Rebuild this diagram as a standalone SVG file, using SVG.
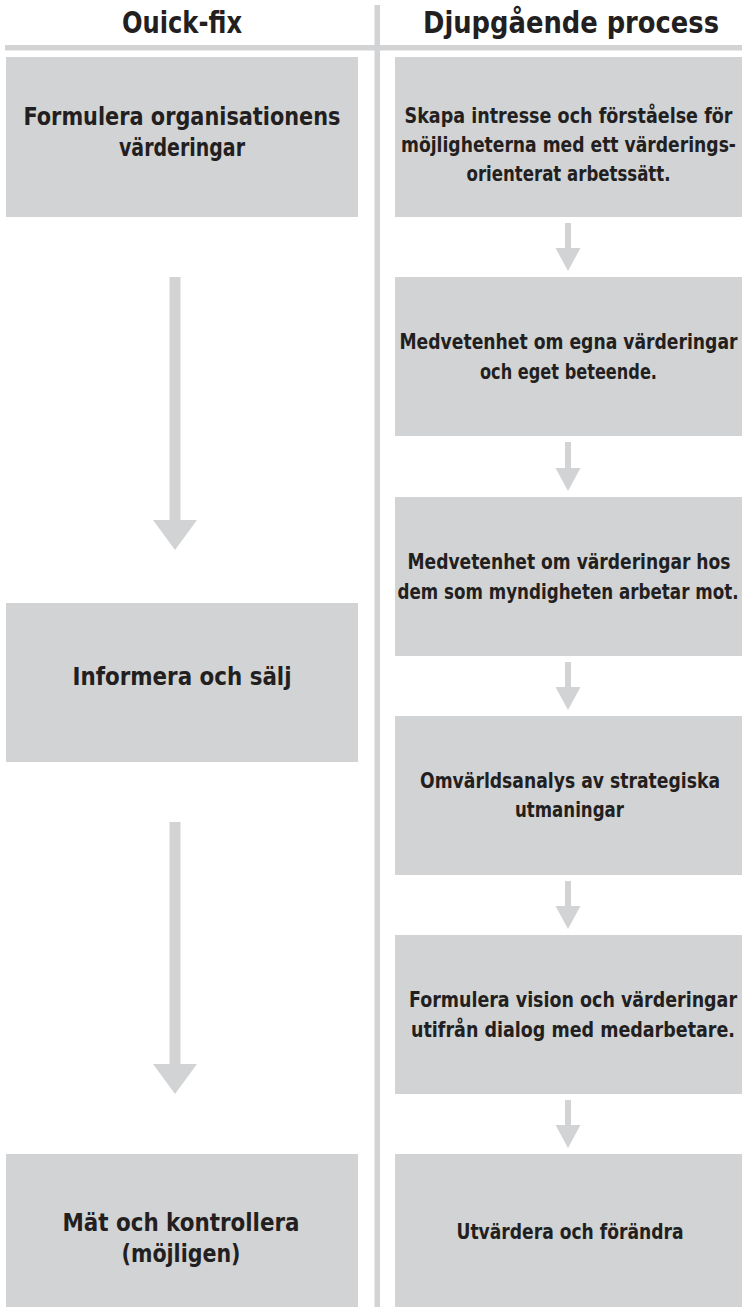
<svg xmlns="http://www.w3.org/2000/svg" width="742" height="1307" viewBox="0 0 742 1307">
<style>
.box{fill:#d1d3d4}
.rule{fill:#d1d3d4}
.arr{fill:#d1d3d4}
text{font-family:"Liberation Sans Narrow","Arial Narrow","DejaVu Sans Condensed","Liberation Sans",sans-serif;fill:#231f20;text-anchor:middle;font-weight:bold}
.h{font-size:31px}
.l{font-size:25px}
.r{font-size:22px}
</style>
<rect width="742" height="1307" fill="#ffffff"/>
<g id="frame">
<rect class="rule" x="374.5" y="5" width="5.5" height="1302"/>
<rect class="rule" x="5" y="45" width="737" height="5.5"/>
</g>
<g id="headers">
<text class="h" x="182" y="33" textLength="120" lengthAdjust="spacingAndGlyphs">Ouick-fix</text>
<text class="h" x="571" y="33" textLength="296" lengthAdjust="spacingAndGlyphs">Djupgående process</text>
</g>
<g id="connectors">
<polygon class="arr" points="169.5,277 180.5,277 180.5,520 197,520 175,550 153,520 169.5,520"/>
<polygon class="arr" points="169.5,822 180.5,822 180.5,1064 197,1064 175,1094 153,1064 169.5,1064"/>
<polygon class="arr" points="565,223 571,223 571,248 580.5,248 568,271 555.5,248 565,248"/>
<polygon class="arr" points="565,442 571,442 571,468 580.5,468 568,491 555.5,468 565,468"/>
<polygon class="arr" points="565,662 571,662 571,687 580.5,687 568,710 555.5,687 565,687"/>
<polygon class="arr" points="565,881 571,881 571,906 580.5,906 568,929 555.5,906 565,906"/>
<polygon class="arr" points="565,1100 571,1100 571,1125 580.5,1125 568,1148 555.5,1125 565,1125"/>
</g>
<g id="q1">
<rect class="box" x="6" y="57" width="352" height="160"/>
<text class="l" x="182" y="125" textLength="317" lengthAdjust="spacingAndGlyphs">Formulera organisationens</text>
<text class="l" x="182" y="156" textLength="126" lengthAdjust="spacingAndGlyphs">värderingar</text>
</g>
<g id="q2">
<rect class="box" x="6" y="603" width="352" height="159"/>
<text class="l" x="182" y="685" textLength="219" lengthAdjust="spacingAndGlyphs">Informera och sälj</text>
</g>
<g id="q3">
<rect class="box" x="6" y="1154" width="352" height="153"/>
<text class="l" x="181" y="1231" textLength="237" lengthAdjust="spacingAndGlyphs">Mät och kontrollera</text>
<text class="l" x="181" y="1262" textLength="119" lengthAdjust="spacingAndGlyphs">(möjligen)</text>
</g>
<g id="d1">
<rect class="box" x="395" y="57" width="347" height="160"/>
<text class="r" x="568.5" y="123" textLength="328" lengthAdjust="spacingAndGlyphs">Skapa intresse och förståelse för</text>
<text class="r" x="568.5" y="152" textLength="335" lengthAdjust="spacingAndGlyphs">möjligheterna med ett värderings-</text>
<text class="r" x="568.5" y="181" textLength="204" lengthAdjust="spacingAndGlyphs">orienterat arbetssätt.</text>
</g>
<g id="d2">
<rect class="box" x="395" y="277" width="347" height="159"/>
<text class="r" x="568.5" y="349" textLength="338" lengthAdjust="spacingAndGlyphs">Medvetenhet om egna värderingar</text>
<text class="r" x="568.5" y="379" textLength="177" lengthAdjust="spacingAndGlyphs">och eget beteende.</text>
</g>
<g id="d3">
<rect class="box" x="395" y="497" width="347" height="159"/>
<text class="r" x="569" y="569" textLength="323" lengthAdjust="spacingAndGlyphs">Medvetenhet om värderingar hos</text>
<text class="r" x="568" y="599" textLength="341" lengthAdjust="spacingAndGlyphs">dem som myndigheten arbetar mot.</text>
</g>
<g id="d4">
<rect class="box" x="395" y="716" width="347" height="159"/>
<text class="r" x="570" y="788" textLength="300" lengthAdjust="spacingAndGlyphs">Omvärldsanalys av strategiska</text>
<text class="r" x="569.5" y="817" textLength="109" lengthAdjust="spacingAndGlyphs">utmaningar</text>
</g>
<g id="d5">
<rect class="box" x="395" y="935" width="347" height="159"/>
<text class="r" x="573" y="1007" textLength="328" lengthAdjust="spacingAndGlyphs">Formulera vision och värderingar</text>
<text class="r" x="573" y="1037" textLength="324" lengthAdjust="spacingAndGlyphs">utifrån dialog med medarbetare.</text>
</g>
<g id="d6">
<rect class="box" x="395" y="1154" width="347" height="153"/>
<text class="r" x="570" y="1239" textLength="227" lengthAdjust="spacingAndGlyphs">Utvärdera och förändra</text>
</g>
</svg>
